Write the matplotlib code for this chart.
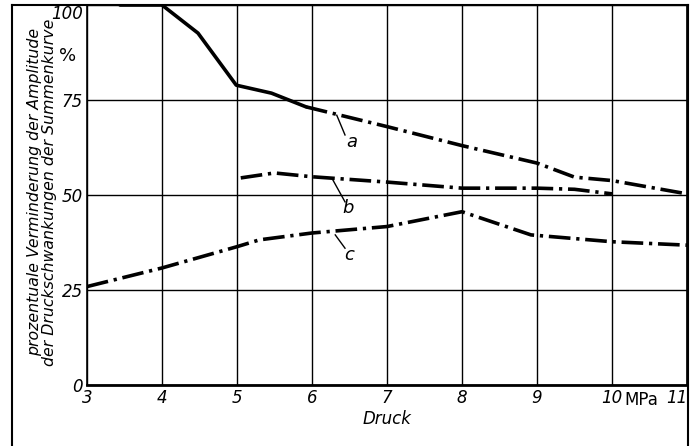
import matplotlib
matplotlib.use("Agg")
import matplotlib.pyplot as plt
from matplotlib.lines import Line2D

# values (Druck in MPa, reduction in %)
a_x = [3.44, 4.0, 4.48, 4.99, 5.46, 5.92, 7.0, 8.0, 9.0, 9.5, 10.0, 11.0]
a_y = [100, 100, 92.6, 78.9, 76.8, 73.2, 68.0, 63.0, 58.4, 54.7, 53.8, 50.3]

b_x = [5.05, 5.5, 6.0, 7.0, 8.0, 9.0, 9.5, 10.0]
b_y = [54.5, 55.8, 54.8, 53.4, 51.8, 51.8, 51.5, 50.3]

c_x = [3.0, 4.0, 5.0, 5.3, 6.0, 7.0, 8.0, 8.92, 10.0, 11.0]
c_y = [25.9, 30.8, 36.4, 38.2, 40.0, 41.7, 45.6, 39.5, 37.7, 36.8]

x_ticks = [3, 4, 5, 6, 7, 8, 9, 10, 11]
y_ticks = [0, 25, 50, 75, 100]

plt.rcParams["font.family"] = ["DejaVu Sans"]
plt.rcParams["font.style"] = "italic"

fig = plt.figure(figsize=(6.96, 4.46), dpi=100)
ax = fig.add_axes([87 / 696, 1 - 385 / 446, 600 / 696, 380 / 446])

dashdot = (0, (6, 1.6, 0.9, 1.6))
lw = 2.6
# first part of curve a is drawn solid in the original
ax.plot(a_x[:6], a_y[:6], color="black", lw=lw, solid_capstyle="round")
ax.plot(a_x[5:], a_y[5:], color="black", lw=lw, linestyle=dashdot)
ax.plot(b_x, b_y, color="black", lw=lw, linestyle=dashdot)
ax.plot(c_x, c_y, color="black", lw=lw, linestyle=dashdot)

# curve letters with leader lines
for lbl, (x0, y0), (x1, y1), (tx, ty) in [
    ("a", (6.33, 71.0), (6.44, 65.8), (6.53, 64.0)),
    ("b", (6.28, 53.9), (6.44, 48.2), (6.48, 46.5)),
    ("c", (6.31, 39.5), (6.44, 36.0), (6.50, 34.2)),
]:
    ax.plot([x0, x1], [y0, y1], color="black", lw=1.0)
    ax.text(tx, ty, lbl, fontsize=13, ha="center", va="center")

ax.set_xlim(3, 11)
ax.set_ylim(0, 100)
ax.set_xticks(x_ticks)
ax.set_xticklabels([str(t) for t in x_ticks], fontsize=12)
ax.get_xticklabels()[-1].set_ha("right")
ax.set_yticks(y_ticks)
ax.set_yticklabels([str(t) for t in y_ticks], fontsize=12)
ax.get_yticklabels()[-1].set_va("top")
ax.tick_params(length=0, pad=3)
ax.grid(True, color="black", lw=1.0)
for side in ["left", "right", "top"]:
    ax.spines[side].set_linewidth(1.2)
ax.spines["bottom"].set_linewidth(2.0)

ax.text(10.17, -1.5, "MPa", fontsize=12, ha="left", va="top", style="normal")
ax.text(2.86, 86.5, "%", fontsize=13, ha="right", va="center", style="normal")
ax.set_xlabel("Druck", fontsize=12, labelpad=2)
fig.text(42 / 696, 1 - 192 / 446,
         "prozentuale Verminderung der Amplitude\nder Druckschwankungen der Summenkurve",
         rotation=90, fontsize=11.3, ha="center", va="center", linespacing=0.95)

# outer frame of the figure
fig.add_artist(Line2D([12 / 696, 12 / 696], [0, 1 - 5 / 446], color="black", lw=1.5))
fig.add_artist(Line2D([12 / 696, 688 / 696], [1 - 5 / 446, 1 - 5 / 446], color="black", lw=1.5))
fig.add_artist(Line2D([688 / 696, 688 / 696], [0, 1 - 5 / 446], color="black", lw=1.5))

fig.savefig("out.png", dpi=100)
